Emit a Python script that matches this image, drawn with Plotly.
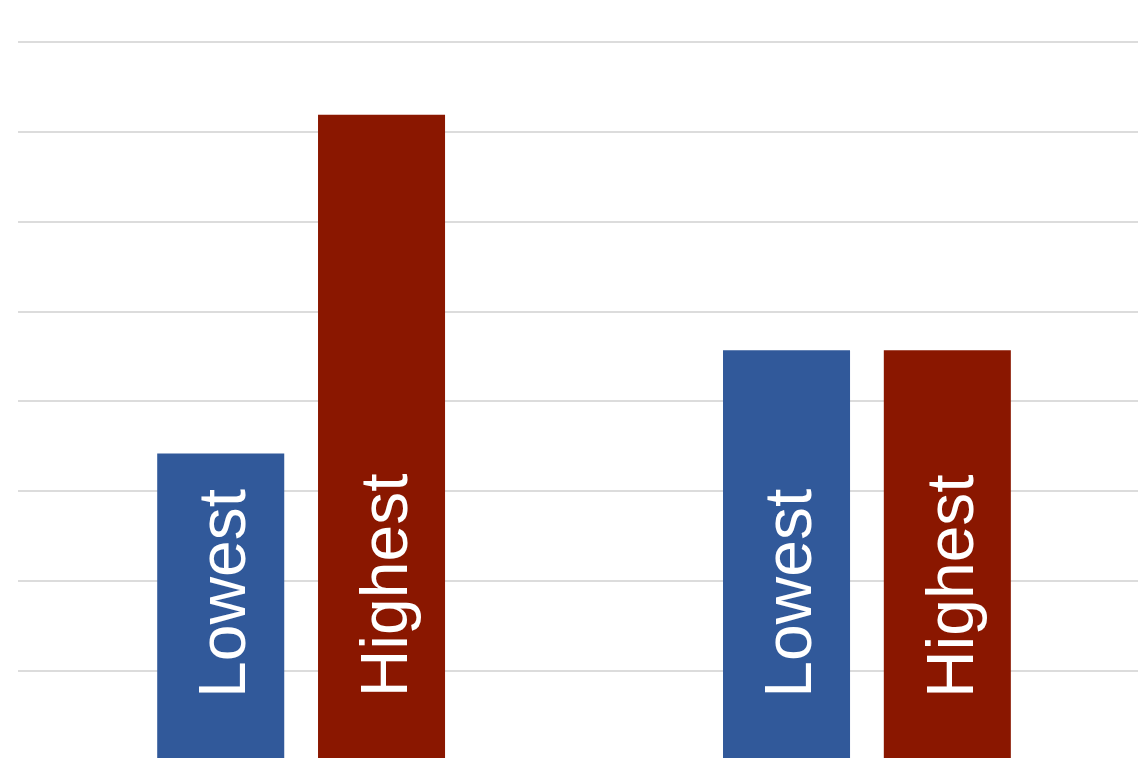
import plotly.graph_objects as go

# Data (units: one gridline step = 1)
categories = ["Group 1", "Group 2"]
lowest = [3.42, 4.57]
highest = [7.19, 4.57]
series_names = ["Lowest", "Highest"]

BLUE = "#31599a"
RED = "#8a1700"
BAR_W = 0.2245
HALF_SEP = 0.1421

fig = go.Figure()
fig.add_trace(go.Bar(x=[0, 1], y=lowest, name=series_names[0], marker=dict(color=BLUE, line=dict(width=0)),
                     width=BAR_W, offset=-HALF_SEP - BAR_W / 2))
fig.add_trace(go.Bar(x=[0, 1], y=highest, name=series_names[1], marker=dict(color=RED, line=dict(width=0)),
                     width=BAR_W, offset=HALF_SEP - BAR_W / 2))

for i in range(len(categories)):
    for name, sign in ((series_names[0], -1), (series_names[1], 1)):
        fig.add_annotation(x=i + sign * HALF_SEP, y=0.68, xref="x", yref="y",
                           text=name, textangle=-90, showarrow=False,
                           xanchor="center", yanchor="bottom", xshift=2,
                           font=dict(family="Liberation Sans, Arial, sans-serif", size=66, color="white"))

fig.update_layout(
    width=1138, height=758,
    margin=dict(l=18, r=0, t=0, b=0),
    paper_bgcolor="white", plot_bgcolor="white",
    barmode="overlay", showlegend=False,
)
fig.update_xaxes(range=[-0.5004, 1.4791], showticklabels=False, showgrid=False,
                 zeroline=False, showline=False, ticks="")
fig.update_yaxes(range=[0.032, 8.468], dtick=1, tick0=0, showticklabels=False,
                 showgrid=True, gridcolor="#dcdcdc", gridwidth=2,
                 zeroline=False, showline=False, ticks="")

fig.write_html("out.html")
